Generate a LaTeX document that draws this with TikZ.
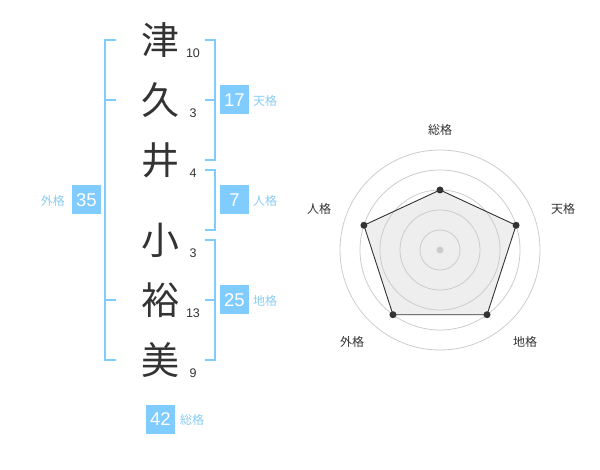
\documentclass[tikz,border=0pt]{standalone}
\usepackage{fontspec}
\setmainfont{Liberation Sans}
\newfontfamily\jp{Noto Sans CJK JP}
\definecolor{kakublue}{HTML}{80CCFF}
\definecolor{labelblue}{HTML}{88CCF2}
\definecolor{inkgray}{HTML}{333333}
\definecolor{ringgray}{HTML}{CCCCCC}
\definecolor{fillgray}{HTML}{EEEEEE}
\tikzset{
  kanji/.style={font=\jp\fontsize{38}{38}\selectfont, text=inkgray, inner sep=0pt},
  stroke/.style={font=\fontsize{12.5}{12.5}\selectfont, text=inkgray, inner sep=0pt},
  kakubox/.style={fill=kakublue, text=white, minimum size=29pt, inner sep=0pt,
    font=\fontsize{18.5}{18.5}\selectfont},
  kakulabel/.style={font=\jp\fontsize{12}{12}\selectfont, text=labelblue, inner sep=0pt},
  bracket/.style={draw=kakublue, line width=2pt},
  radarlabel/.style={font=\jp\fontsize{12}{12}\selectfont, text=inkgray, inner sep=0pt},
  dot/.style={circle, fill=inkgray, minimum size=7pt, inner sep=0pt}
}
\begin{document}
\begin{tikzpicture}[x=1pt, y=-1pt]
    \useasboundingbox (0,0) rectangle (600,470);
    % name, one character per row
    \node[kanji] (c1) at (160,40) {津};
    \node[kanji] (c2) at (160,100) {久};
    \node[kanji] (c3) at (160,160) {井};
    \node[kanji] (c4) at (160,240) {小};
    \node[kanji] (c5) at (160,300) {裕};
    \node[kanji] (c6) at (160,360) {美};
    \node[stroke] (n1) at (193,53) {10};
    \node[stroke] (n2) at (193,113) {3};
    \node[stroke] (n3) at (193,173) {4};
    \node[stroke] (n4) at (193,253) {3};
    \node[stroke] (n5) at (193,313) {13};
    \node[stroke] (n6) at (193,373) {9};
    % brackets
    \draw[bracket] (116,40) -- (105,40) -- (105,360) -- (116,360);
    \draw[bracket] (105,100) -- (116,100);
    \draw[bracket] (105,300) -- (116,300);
    \draw[bracket] (205,40) -- (215,40) -- (215,160) -- (205,160);
    \draw[bracket] (205,100) -- (215,100);
    \draw[bracket] (205,170) -- (215,170) -- (215,230) -- (205,230);
    \draw[bracket] (205,240) -- (215,240) -- (215,360) -- (205,360);
    \draw[bracket] (205,300) -- (215,300);
    % scores
    \node[kakubox] (gai) at (86.5,200) {35};
    \node[kakulabel, anchor=east] (gail) at (65,201) {外格};
    \node[kakubox] (ten) at (234.5,100) {17};
    \node[kakulabel, anchor=west] (tenl) at (253,101) {天格};
    \node[kakubox] (jin) at (234.5,200) {7};
    \node[kakulabel, anchor=west] (jinl) at (253,201) {人格};
    \node[kakubox] (chi) at (234.5,300) {25};
    \node[kakulabel, anchor=west] (chil) at (253,301) {地格};
    \node[kakubox] (sou) at (160.5,419) {42};
    \node[kakulabel, anchor=west] (soul) at (180,420) {総格};
    % radar chart
    \coordinate (ctr) at (440,250);
    \coordinate (rsou) at ([shift={(90:60pt)}]ctr);
    \coordinate (rten) at ([shift={(18:80pt)}]ctr);
    \coordinate (rchi) at ([shift={(-54:80pt)}]ctr);
    \coordinate (rgai) at ([shift={(-126:80pt)}]ctr);
    \coordinate (rjin) at ([shift={(162:80pt)}]ctr);
    \fill[fillgray] (rsou) -- (rten) -- (rchi) -- (rgai) -- (rjin) -- cycle;
    \foreach \r in {20,40,60,80,100}
      \draw[ringgray, line width=0.8pt] (ctr) circle (\r pt);
    \draw[inkgray, line width=0.9pt] (rsou) -- (rten) -- (rchi) -- (rgai) -- (rjin) -- cycle;
    \fill[ringgray] (ctr) circle (3.5pt);
    \foreach \p in {rsou,rten,rchi,rgai,rjin}
      \node[dot] at (\p) {};
    \node[radarlabel] (lsou) at (440,130) {総格};
    \node[radarlabel] (lten) at (563,209) {天格};
    \node[radarlabel] (lchi) at (525,342) {地格};
    \node[radarlabel] (lgai) at (352,342) {外格};
    \node[radarlabel] (ljin) at (319,209) {人格};
\end{tikzpicture}
\end{document}
